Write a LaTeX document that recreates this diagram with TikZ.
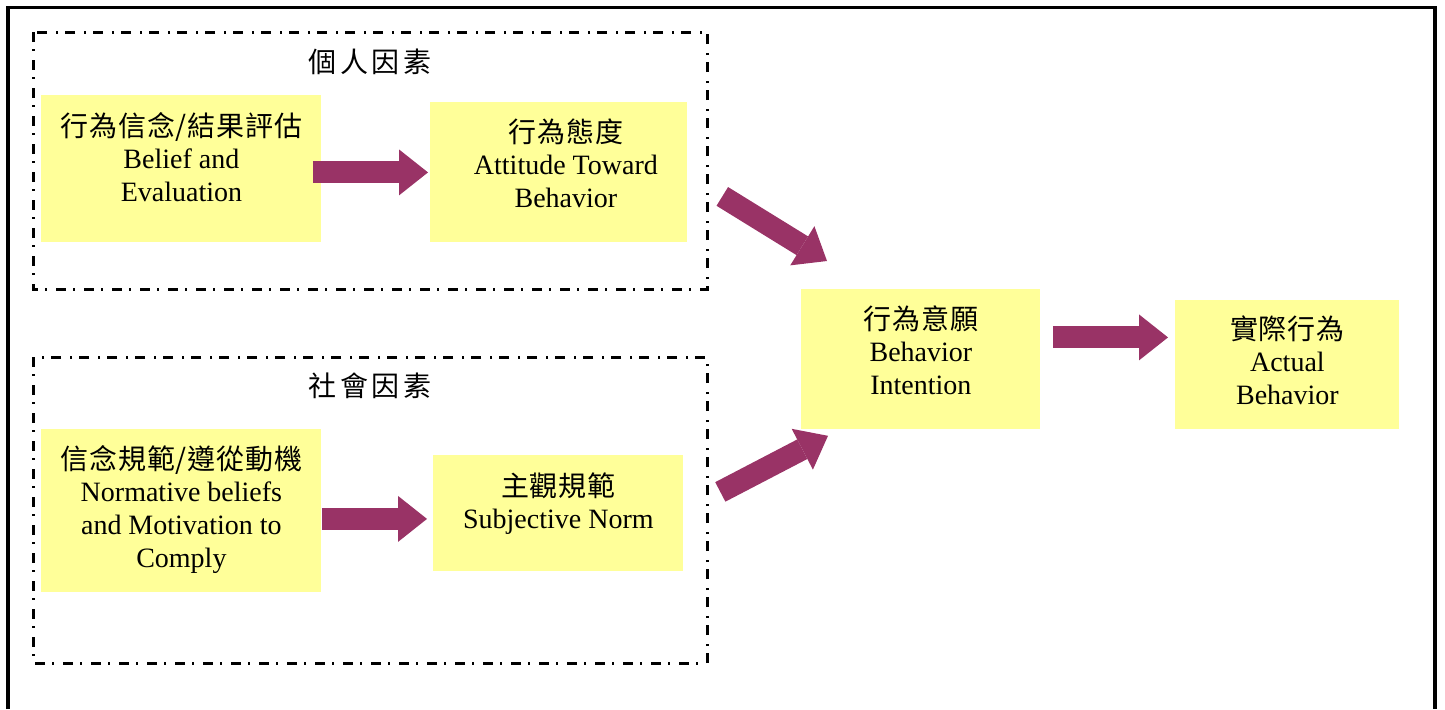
\documentclass[tikz,border=0pt]{standalone}
\usepackage{fontspec}
\setmainfont{Liberation Serif}
\newfontfamily\cjk{Noto Sans CJK TC}[LetterSpace=3]
\newfontfamily\cjktitle{Noto Sans CJK TC}[LetterSpace=12]
\usetikzlibrary{arrows.meta,calc}
\definecolor{boxyellow}{HTML}{FFFF99}
\definecolor{arrowred}{HTML}{993366}
\tikzset{
  box/.style={rectangle, fill=boxyellow, draw=none, inner sep=0pt, anchor=north west},
  boxtext/.style={anchor=north, inner sep=0pt, align=center, font=\fontsize{14pt}{16.3pt}\selectfont},
  grouptitle/.style={inner sep=0pt, font=\fontsize{14pt}{16.3pt}\selectfont\cjktitle},
  groupframe/.style={draw=black, line width=1.5pt, dash pattern=on 5pt off 3.5pt on 1pt off 4.5pt},
  blockarrow/.style={draw=arrowred, line width=11pt, -{Triangle[length=14.5pt,width=23pt,line width=0pt]}},
  outerframe/.style={draw=black, line width=1.9pt}
}
\begin{document}
\begin{tikzpicture}[x=0.5pt,y=-0.5pt]
\useasboundingbox (0,0) rectangle (1445,709);
\draw[outerframe] (8,709) -- (8,7.5) -- (1435,7.5) -- (1435,709);

% group frames
\draw[groupframe] (33,32) rectangle (707,289);
\draw[groupframe] (33,357) rectangle (707,663);
\node[grouptitle] (t1) at (370,62) {個人因素};
\node[grouptitle] (t2) at (370,386) {社會因素};

% boxes
\node[box, minimum width=140pt, minimum height=73.5pt] (A) at (41,95) {};
\node[boxtext] at ([yshift=-8.5pt]A.north) {{\cjk 行為信念/結果評估}\\Belief and\\Evaluation};

\node[box, minimum width=128.5pt, minimum height=70pt] (B) at (430,102) {};
\node[boxtext] at ([xshift=3.5pt,yshift=-8pt]B.north) {{\cjk 行為態度}\\Attitude Toward\\Behavior};

\node[box, minimum width=119.5pt, minimum height=70pt] (C) at (801,289) {};
\node[boxtext] at ([yshift=-8pt]C.north) {{\cjk 行為意願}\\Behavior\\Intention};

\node[box, minimum width=112pt, minimum height=64.5pt] (D) at (1175,300) {};
\node[boxtext] at ([yshift=-7.5pt]D.north) {{\cjk 實際行為}\\Actual\\Behavior};

\node[box, minimum width=140pt, minimum height=81.5pt] (E) at (41,429) {};
\node[boxtext] at ([yshift=-8pt]E.north) {{\cjk 信念規範/遵從動機}\\Normative beliefs\\and Motivation to\\Comply};

\node[box, minimum width=125pt, minimum height=58pt] (F) at (433,455) {};
\node[boxtext] at ([yshift=-8.5pt]F.north) {{\cjk 主觀規範}\\Subjective Norm};

% arrows
\draw[blockarrow] ($(A.east |- B.west)+(-9,0)$) -- ($(B.west)+(-2,0)$);
\draw[blockarrow] ($(E.east)+(0,8)$) -- ($(F.west |- E.east)+(-6,8)$);
\draw[blockarrow] ($(C.east)+(12,-22)$) -- ($(D.west |- C.east)+(-7,-22)$);
\draw[blockarrow] ($(B.east)+(34.5,24)$) -- ($(C.north west)+(26,-28)$);
\draw[blockarrow] ($(F.east)+(36.5,-21.5)$) -- ($(C.south west)+(27,6)$);
\end{tikzpicture}
\end{document}
